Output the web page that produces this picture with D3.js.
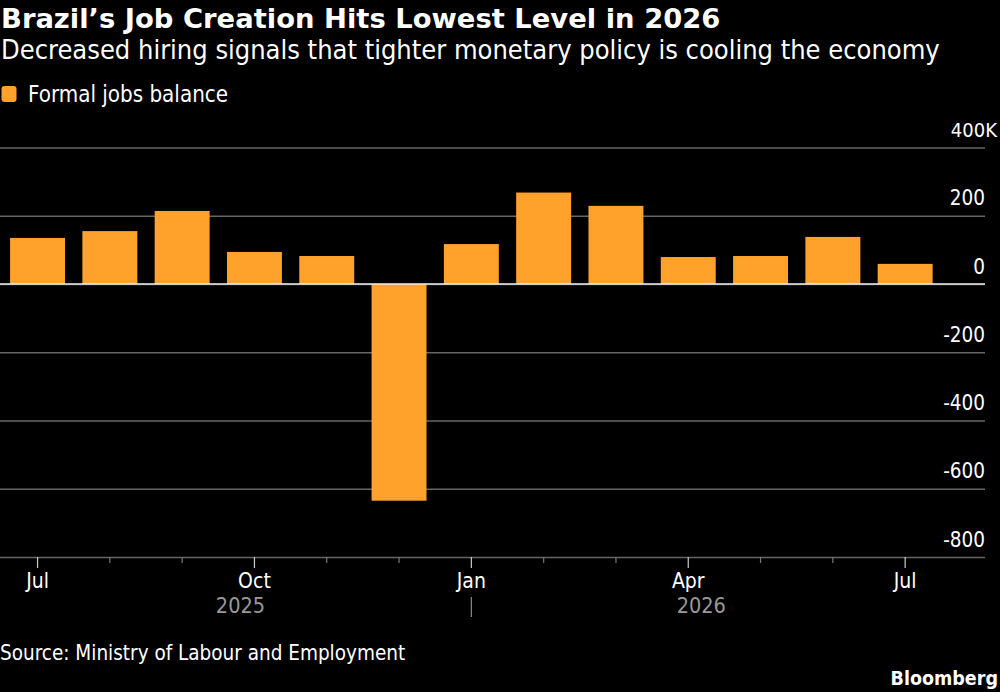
<!DOCTYPE html>
<html>
<head>
<meta charset="utf-8">
<script src="https://cdn.jsdelivr.net/npm/d3@7"></script>
<style>
  html, body { margin: 0; padding: 0; background: #000; }
  text { font-family: "DejaVu Sans Condensed", "DejaVu Sans", sans-serif; fill: #fff; }
</style>
</head>
<body>
<div id="chart"></div>
<script>
var months = ["2025-07","2025-08","2025-09","2025-10","2025-11","2025-12","2026-01","2026-02","2026-03","2026-04","2026-05","2026-06","2026-07"];
var jobsBalance = [135, 155, 214, 94, 82, -635, 117, 268, 229, 79, 82, 138, 59];
var yTicks = [400, 200, 0, -200, -400, -600, -800];
var majorLabels = {"2025-07":"Jul","2025-10":"Oct","2026-01":"Jan","2026-04":"Apr","2026-07":"Jul"};
var yearLabels = [["2025-10", "2025", -14], ["2026-04", "2026", 13]];

var width = 1000, height = 692;
var svg = d3.select("#chart").append("svg")
  .attr("width", width)
  .attr("height", height)
  .style("display", "block");

svg.append("rect").attr("width", width).attr("height", height).attr("fill", "#000");

var x = d3.scaleBand().domain(months).range([1.4, 941.3]).paddingInner(0.24).paddingOuter(0.12);
var y = d3.scaleLinear().domain([-800, 400]).range([557, 147.5]);

// gridlines + y labels
var yAxis = d3.axisRight(y).tickValues(yTicks).tickSize(985).tickPadding(0)
  .tickFormat(function(d) { return d == 400 ? "400K" : d; });
var yG = svg.append("g").call(yAxis);
yG.select(".domain").remove();
yG.selectAll(".tick line").attr("stroke", "#666").attr("stroke-width", 1.4);
yG.selectAll(".tick text")
  .attr("x", function(d) { return d == 400 ? 997 : 985; })
  .attr("y", -17.5)
  .attr("dy", "0.32em")
  .attr("text-anchor", "end")
  .style("font-size", function(d) { return d == 400 ? "20px" : "20.5px"; });

// bars
svg.append("g").selectAll("rect")
  .data(jobsBalance)
  .enter().append("rect")
  .attr("x", function(d, i) { return x(months[i]); })
  .attr("width", x.bandwidth())
  .attr("y", function(d) { return y(Math.max(d, 0)); })
  .attr("height", function(d) { return Math.abs(y(d) - y(0)); })
  .attr("fill", "#ffa22c");

// zero line
svg.append("line")
  .attr("x1", 0).attr("x2", 985)
  .attr("y1", y(0)).attr("y2", y(0))
  .attr("stroke", "#eee").attr("stroke-width", 1.6);

// x axis, every month a tick, quarters longer
var xAxis = d3.axisBottom(x).tickSize(0).tickFormat(function(d) { return majorLabels[d] || ""; }).tickPadding(16);
var xG = svg.append("g").attr("transform", "translate(0,557)").call(xAxis);
xG.select(".domain").remove();
xG.selectAll(".tick line")
  .attr("y2", function(d) { return majorLabels[d] ? 11 : 6; })
  .attr("stroke", function(d) { return majorLabels[d] ? "#ccc" : "#777"; })
  .attr("stroke-width", 1.2);
xG.selectAll(".tick text").style("font-size", "21px").attr("fill", "#fff");

// year labels and the divider
svg.append("g").selectAll("text")
  .data(yearLabels)
  .enter().append("text")
  .attr("x", function(d) { return x(d[0]) + x.bandwidth() / 2 + d[2]; })
  .attr("y", 612.5)
  .attr("text-anchor", "middle")
  .style("font-size", "21.5px")
  .style("fill", "#999")
  .text(function(d) { return d[1]; });

var jan = x("2026-01") + x.bandwidth() / 2;
svg.append("line")
  .attr("x1", jan).attr("x2", jan)
  .attr("y1", 597).attr("y2", 617)
  .attr("stroke", "#888").attr("stroke-width", 1.2);

// legend
svg.append("rect")
  .attr("x", 1.5).attr("y", 86).attr("width", 15).attr("height", 16).attr("rx", 3)
  .attr("fill", "#ffa22c");
svg.append("text").attr("x", 28).attr("y", 102).style("font-size", "22.2px").text("Formal jobs balance");

// title block
svg.append("text").attr("x", 1).attr("y", 28)
  .style("font-family", "'DejaVu Sans', sans-serif")
  .style("font-size", "27.4px").style("font-weight", "700")
  .text("Brazil\u2019s Job Creation Hits Lowest Level in 2026");
svg.append("text").attr("x", 1).attr("y", 59)
  .style("font-size", "27px")
  .text("Decreased hiring signals that tighter monetary policy is cooling the economy");

// footer
svg.append("text").attr("x", 0).attr("y", 660).style("font-size", "20.5px")
  .text("Source: Ministry of Labour and Employment");
svg.append("text").attr("x", 998).attr("y", 685).attr("text-anchor", "end")
  .style("font-size", "19.5px").style("font-weight", "700")
  .text("Bloomberg");
</script>
</body>
</html>
